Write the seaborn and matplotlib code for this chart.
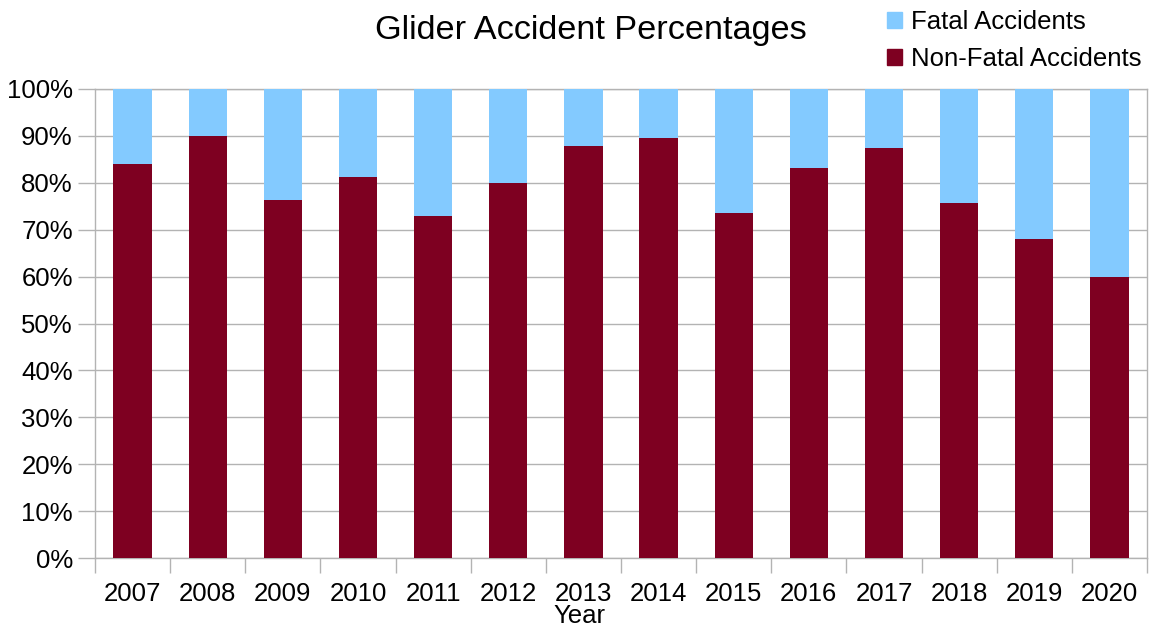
import matplotlib
matplotlib.use("Agg")
import matplotlib.pyplot as plt
import seaborn as sns
import pandas as pd
import numpy as np
from matplotlib.patches import Patch
from matplotlib.ticker import FixedLocator, PercentFormatter

years = ["2007", "2008", "2009", "2010", "2011", "2012", "2013",
         "2014", "2015", "2016", "2017", "2018", "2019", "2020"]
non_fatal = [84.0, 90.0, 76.3, 81.2, 72.9, 80.0, 87.8,
             89.6, 73.6, 83.2, 87.4, 75.7, 68.0, 60.0]
fatal = [100 - v for v in non_fatal]

title = "Glider Accident Percentages"
series_names = ["Fatal Accidents", "Non-Fatal Accidents"]
x_label = "Year"

c_fatal = "#83CAFF"
c_nonfatal = "#7E0021"
grid_c = "#b3b3b3"

sns.set_theme(style="white")
plt.rcParams["font.family"] = ["Liberation Sans", "DejaVu Sans"]
plt.rcParams["text.color"] = "black"

df = pd.DataFrame({"Year": years, "NonFatal": non_fatal, "Fatal": fatal})
df["Total"] = df["NonFatal"] + df["Fatal"]

fig = plt.figure(figsize=(11.52, 6.28), dpi=100)
ax = fig.add_axes([95/1152, 1 - 558/628, (1147-95)/1152, (558-89)/628])

sns.barplot(data=df, x="Year", y="Total", color=c_fatal, width=0.51,
            saturation=1, ax=ax, zorder=3, linewidth=0, edgecolor="none")
sns.barplot(data=df, x="Year", y="NonFatal", color=c_nonfatal, width=0.51,
            saturation=1, ax=ax, zorder=4, linewidth=0, edgecolor="none")

fs = 18.5
ax.set_ylim(0, 100)
ax.set_xlim(-0.5, len(years) - 0.5)
ax.set_yticks(np.arange(0, 101, 10))
ax.yaxis.set_major_formatter(PercentFormatter(decimals=0))
ax.yaxis.grid(True, color=grid_c, linewidth=1, zorder=0)
ax.set_axisbelow(True)
ax.set_ylabel("")

ax.set_xticks(np.arange(len(years)))
ax.set_xticklabels(years)
ax.xaxis.set_minor_locator(FixedLocator(np.arange(-0.5, len(years), 1)))
ax.tick_params(axis="x", which="major", length=0, labelsize=fs, pad=17)
ax.tick_params(axis="x", which="minor", length=11, width=1, color=grid_c, bottom=True)
ax.tick_params(axis="y", which="major", length=12, width=1, color=grid_c,
               labelsize=fs, pad=4, left=True)
for lab in ax.get_yticklabels() + ax.get_xticklabels():
    lab.set_color("black")

for s in ax.spines.values():
    s.set_color(grid_c)
    s.set_linewidth(1)

ax.set_xlabel(x_label, fontsize=fs, color="black")
ax.xaxis.set_label_coords((579 - 95) / 1052, -0.099)

fig.text(591/1152, 1 - 31/628, title, fontsize=24.7, ha="center", va="center",
         color="black")

handles = [Patch(facecolor=c_fatal, edgecolor=c_fatal),
           Patch(facecolor=c_nonfatal, edgecolor=c_nonfatal)]
fig.legend(handles, series_names, loc="upper right",
           bbox_to_anchor=(1.0, 1.0), frameon=False, fontsize=fs,
           handlelength=0.6, handleheight=0.6, handletextpad=0.35,
           labelspacing=0.5, borderaxespad=0.3, borderpad=0.1)

fig.savefig("out.png", dpi=100)
